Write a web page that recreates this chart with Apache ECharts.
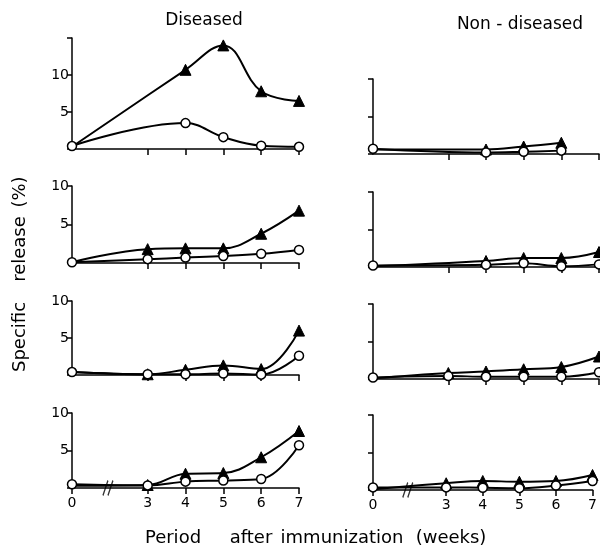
<!DOCTYPE html>
<html><head><meta charset="utf-8">
<script src="https://cdn.jsdelivr.net/npm/echarts@6/dist/echarts.min.js"></script>
<style>html,body{margin:0;padding:0;background:#fff}#c{width:600px;height:547px}</style>
</head><body><div id="c"></div>
<script>
// weeks after immunization (0 = before; axis broken between 0 and 3)
const weeks = [0, 3, 4, 5, 6, 7];
const tickWeeks = [0, 3, 4, 5, 6, 7];
const yTicks = [5, 10];

// Diseased (left column), rows 1-4 : filled triangles / open circles
const dis1Tri  = [0.3, null, 10.7, 14.0, 7.8, 6.5];
const dis1Circ = [0.4, null, 3.5, 1.6, 0.45, 0.3];
const dis2Tri  = [0.1, 1.8, 1.9, 1.9, 3.8, 6.8];
const dis2Circ = [0.1, 0.5, 0.7, 0.9, 1.2, 1.7];
const dis3Tri  = [0.4, 0.1, 0.7, 1.3, 0.8, 6.0];
const dis3Circ = [0.4, 0.1, 0.1, 0.2, 0.05, 2.6];
const dis4Tri  = [0.3, 0.4, 1.9, 2.0, 4.1, 7.6];
const dis4Circ = [0.5, 0.35, 0.85, 1.0, 1.2, 5.7];

// Non-diseased (right column), rows 1-4
const non1Tri  = [0.6, null, 0.6, 1.0, 1.5, null];
const non1Circ = [0.7, null, 0.2, 0.3, 0.45, null];
const non2Tri  = [0.1, null, 0.8, 1.2, 1.2, 2.0];
const non2Circ = [0.2, null, 0.3, 0.5, 0.1, 0.35];
const non3Tri  = [0.1, 0.8, 1.0, 1.3, 1.6, 3.0];
const non3Circ = [0.2, 0.4, 0.3, 0.3, 0.3, 0.9];
const non4Tri  = [0.1, 0.9, 1.2, 1.1, 1.2, 2.0];
const non4Circ = [0.35, 0.35, 0.3, 0.25, 0.6, 1.2];

const yMax = [15, 10, 10, 10, 10, 10, 10, 10];

// broken axis: week w>=3 placed at w-1, week 0 at 0
const pos = w => (w === 0 ? 0 : w - 1);
const unpos = v => (v === 0 ? 0 : Math.round(v + 1));
const toData = (arr, hideFirst) => weeks.map((w, i) => arr[i] == null ? null :
  (hideFirst && w === 0 ? {value: [pos(w), arr[i]], symbol: 'none'} : [pos(w), arr[i]])).filter(d => d);

const panels = [
  {tri: dis1Tri, circ: dis1Circ, left: 72, top: 38, width: 227, height: 111, col: 0, bottom: false},
  {tri: dis2Tri, circ: dis2Circ, left: 72, top: 186, width: 227, height: 77, col: 0, bottom: false},
  {tri: dis3Tri, circ: dis3Circ, left: 72, top: 301, width: 227, height: 74, col: 0, bottom: false},
  {tri: dis4Tri, circ: dis4Circ, left: 72, top: 413, width: 227, height: 75, col: 0, bottom: true},
  {tri: non1Tri, circ: non1Circ, left: 373, top: 79, width: 226, height: 75, col: 1, bottom: false},
  {tri: non2Tri, circ: non2Circ, left: 373, top: 192, width: 226, height: 75, col: 1, bottom: false},
  {tri: non3Tri, circ: non3Circ, left: 373, top: 304, width: 226, height: 75, col: 1, bottom: false},
  {tri: non4Tri, circ: non4Circ, left: 373, top: 415, width: 226, height: 75, col: 1, bottom: true}
];

const FONT = 'DejaVu Sans';
const black = '#000';
const tickPos = tickWeeks.map(pos);

const grid = [], xAxis = [], yAxis = [], series = [];
panels.forEach((p, i) => {
  grid.push({left: p.left, top: p.top, width: p.width, height: p.height, containLabel: false});
  xAxis.push({
    gridIndex: i, type: 'value', min: 0, max: pos(7),
    axisLine: {show: true, onZero: false, lineStyle: {color: black, width: 1.5}},
    axisTick: {show: true, length: 6, lineStyle: {color: black, width: 1.5},
      customValues: p.bottom ? tickPos : tickPos.slice(1)},
    axisLabel: {show: p.bottom, customValues: tickPos, formatter: v => String(unpos(v)),
      fontFamily: FONT, fontSize: 14, color: black, margin: 8},
    splitLine: {show: false}
  });
  yAxis.push({
    gridIndex: i, type: 'value', min: 0, max: yMax[i], interval: 5,
    axisLine: {show: true, lineStyle: {color: black, width: 1.5}},
    axisTick: {show: true, length: 5, lineStyle: {color: black, width: 1.5}},
    axisLabel: {show: p.col === 0, formatter: v => (yTicks.indexOf(v) >= 0 ? String(v) : ''),
      fontFamily: FONT, fontSize: 14, color: black, margin: 3},
    splitLine: {show: false}
  });
  series.push({
    type: 'line', xAxisIndex: i, yAxisIndex: i, data: toData(p.tri, true), smooth: 0.4,
    symbol: 'triangle', symbolSize: 11, silent: true, animation: false,
    lineStyle: {color: black, width: 2}, itemStyle: {color: black, borderColor: black}, z: 3
  });
  series.push({
    type: 'line', xAxisIndex: i, yAxisIndex: i, data: toData(p.circ, false), smooth: 0.4,
    symbol: 'circle', symbolSize: 9, silent: true, animation: false,
    lineStyle: {color: black, width: 2}, itemStyle: {color: '#fff', borderColor: black, borderWidth: 1.5}, z: 4
  });
  if (p.bottom) {
    series.push({
      type: 'scatter', xAxisIndex: i, yAxisIndex: i, data: [[0.95, 0]], silent: true, animation: false,
      symbol: 'path://M0,20 L6,0 M6,20 L12,0', symbolSize: [10, 15],
      itemStyle: {color: 'transparent', borderColor: black, borderWidth: 1.5}, z: 5
    });
  }
});

const txt = (text, x, y, size, rot) => ({
  type: 'text', x: x, y: y, rotation: rot || 0, silent: true,
  style: {text: text, fontFamily: FONT, fontSize: size, fill: black, align: 'center', verticalAlign: 'middle'}
});

const chart = echarts.init(document.getElementById('c'), null, {renderer: 'canvas'});
chart.setOption({
  animation: false,
  backgroundColor: '#fff',
  grid, xAxis, yAxis, series,
  graphic: [
    txt('Diseased', 204, 21, 17),
    txt('Non - diseased', 520, 25, 17),
    txt('Period', 173, 538, 18),
    txt('after', 251, 538, 18),
    txt('immunization', 342, 538, 18),
    txt('(weeks)', 451, 538, 18),
    txt('Specific', 20, 337, 18, Math.PI / 2),
    txt('release', 20, 249, 18, Math.PI / 2),
    txt('(%)', 20, 192, 18, Math.PI / 2)
  ]
});
</script></body></html>
